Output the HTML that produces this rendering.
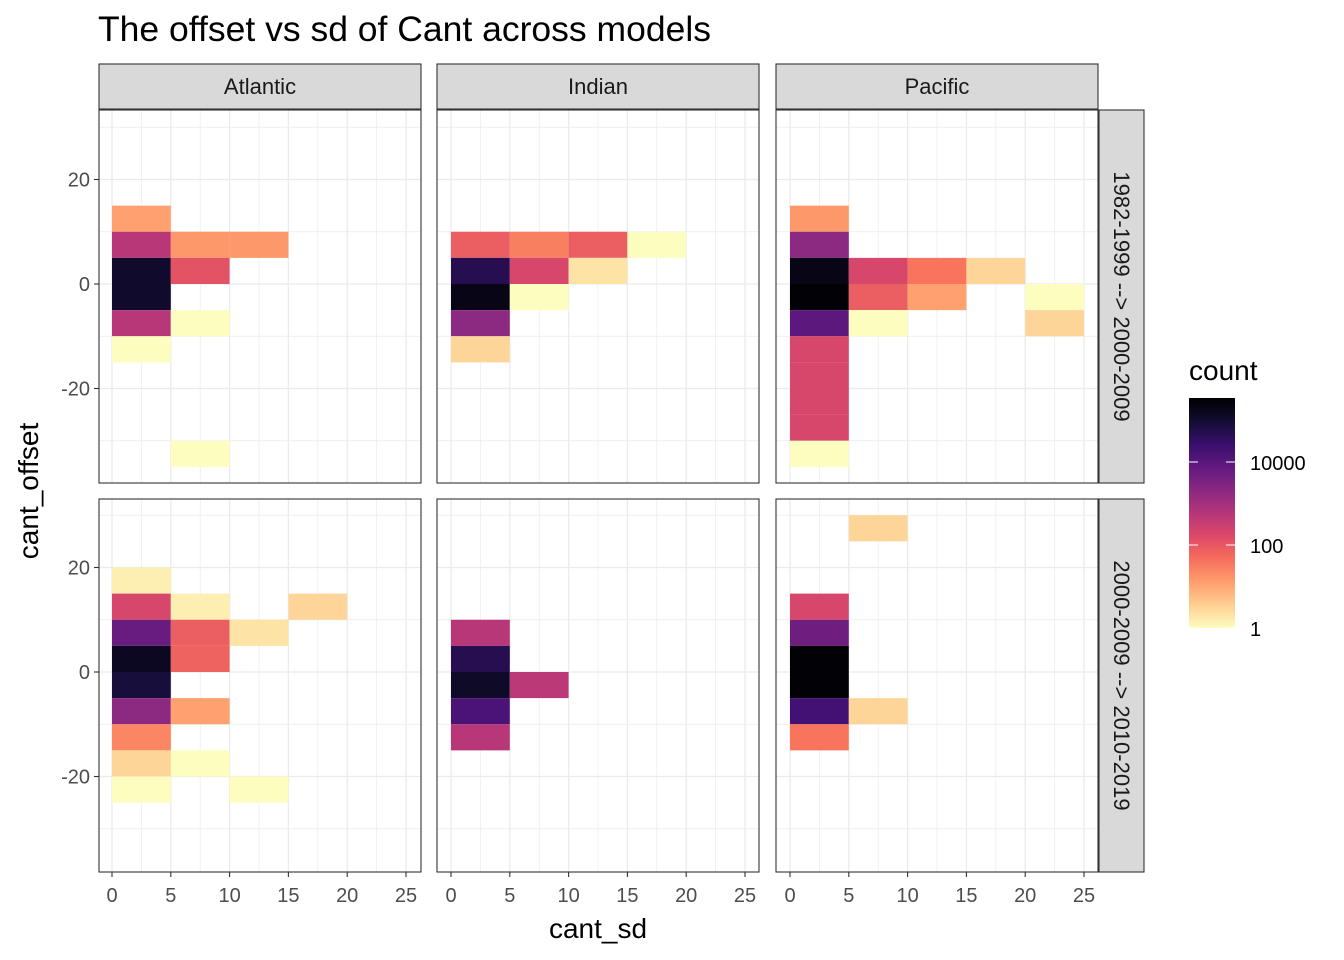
<!DOCTYPE html>
<html><head><meta charset="utf-8">
<style>body{margin:0;background:#fff}svg{display:block;font-family:"Liberation Sans",sans-serif}</style>
</head><body>
<svg id="c" width="1344" height="960"></svg>
<script>
const panelNames=["Atlantic","Indian","Pacific"];
const rowNames=["1982-1999 --> 2000-2009","2000-2009 --> 2010-2019"];
// tiles per panel: Atlantic-top 11, Indian-top 11, Pacific-top 18, Atlantic-bottom 17, Indian-bottom 6, Pacific-bottom 8
const tileRow=[0,0,0,0,0,0,0,0,0,0,0,
 0,0,0,0,0,0,0,0,0,0,0,
 0,0,0,0,0,0,0,0,0,0,0,0,0,0,0,0,0,0,
 1,1,1,1,1,1,1,1,1,1,1,1,1,1,1,1,1,
 1,1,1,1,1,1,
 1,1,1,1,1,1,1,1];
const tileCol=[0,0,0,0,0,0,0,0,0,0,0,
 1,1,1,1,1,1,1,1,1,1,1,
 2,2,2,2,2,2,2,2,2,2,2,2,2,2,2,2,2,2,
 0,0,0,0,0,0,0,0,0,0,0,0,0,0,0,0,0,
 1,1,1,1,1,1,
 2,2,2,2,2,2,2,2];
const tileX=[0,0,5,10,0,5,0,0,5,0,5,
 0,5,10,15,0,5,10,0,5,0,0,
 0,0,0,5,10,15,0,5,10,20,0,5,20,0,0,0,0,0,
 0,0,5,15,0,5,10,0,5,0,0,5,0,0,5,0,10,
 0,0,0,5,0,0,
 5,0,0,0,0,0,5,0];
const tileY=[10,5,5,5,0,0,-5,-10,-10,-15,-35,
 5,5,5,5,0,0,0,-5,-5,-10,-15,
 10,5,0,0,0,0,-5,-5,-5,-5,-10,-10,-10,-15,-20,-25,-30,-35,
 15,10,10,10,5,5,5,0,0,-5,-10,-10,-15,-20,-20,-25,-25,
 5,0,-5,-5,-10,-15,
 25,10,5,0,-5,-10,-10,-15];
const tileCount=[12,560,15,15,115000,120,115000,560,1,1,1,
 80,30,80,1,50000,200,2,200000,1,2000,3,
 15,2000,200000,200,40,3,300000,80,12,1,9000,1,3,200,200,200,200,1,
 1.5,200,1.5,3,6000,80,2,150000,70,80000,2000,12,25,3,1,1,1,
 560,50000,130000,500,15000,560,
 3,200,5000,300000,300000,20000,3,40];
const xTicks=[0,5,10,15,20,25];
const yTicks=[-20,0,20];
const legendTicks=[1,100,10000];

const S=document.getElementById('c'),NS="http://www.w3.org/2000/svg";
function el(t,a,p){const e=document.createElementNS(NS,t);for(const k in a)e.setAttribute(k,a[k]);(p||S).appendChild(e);return e;}
const stops=["#000004","#140e36","#3b0f70","#641a80","#8c2981","#b73779","#de4968","#f7705c","#fe9f6d","#fecf92","#fcfdbf"];
function hx(c){return [1,3,5].map(i=>parseInt(c.substr(i,2),16));}
function magma(t){t=Math.max(0,Math.min(1,t));const f=t*10,i=Math.min(9,Math.floor(f)),r=f-i;const a=hx(stops[i]),b=hx(stops[i+1]);return "rgb("+a.map((v,k)=>Math.round(v+(b[k]-v)*r)).join(",")+")";}
const LMAX=5.5;
function col(c){return magma(1-Math.log10(c)/LMAX);}
const PX=[99,437,776],PW=322,PY=[110,499],PH=373;
const X0=[112,451,790],XS=11.76,Y0=[284,672],YS=5.225;
function sx(c,v){return X0[c]+v*XS;}
function sy(r,v){return Y0[r]-v*YS;}

for(let r=0;r<2;r++)for(let c=0;c<3;c++){
  const g=el('g',{});
  
  
  el('rect',{x:PX[c],y:PY[r],width:PW,height:PH,fill:'#fff'},g);
  for(let v=-2.5;v<=27.5;v+=2.5){const x=sx(c,v);if(x<PX[c]||x>PX[c]+PW)continue;
    el('line',{x1:x,x2:x,y1:PY[r],y2:PY[r]+PH,stroke:'#ebebeb','stroke-width':(v%5===0)?1.3:0.7},g);}
  for(let v=-40;v<=40;v+=10){const y=sy(r,v);if(y<PY[r]||y>PY[r]+PH)continue;
    el('line',{x1:PX[c],x2:PX[c]+PW,y1:y,y2:y,stroke:'#ebebeb','stroke-width':(v%20===0)?1.3:0.7},g);}
}
for(let i=0;i<tileCount.length;i++){
  const r=tileRow[i],c=tileCol[i];
  const t=el('rect',{x:sx(c,tileX[i]),y:sy(r,tileY[i]+5),width:5*XS,height:5*YS,fill:col(tileCount[i])});
  
  
}
for(let r=0;r<2;r++)for(let c=0;c<3;c++){
  el('rect',{x:PX[c],y:PY[r],width:PW,height:PH,fill:'none',stroke:'#333','stroke-width':1.1});
}
for(let c=0;c<3;c++){
  const g=el('g',{});
  
  
  el('rect',{x:PX[c],y:64,width:PW,height:45,fill:'#d9d9d9',stroke:'#333','stroke-width':1.1},g);
  const t=el('text',{x:PX[c]+PW/2,y:94,'text-anchor':'middle','font-size':22,fill:'#1a1a1a'},g);t.textContent=panelNames[c];
}
for(let r=0;r<2;r++){
  const g=el('g',{});
  
  
  el('rect',{x:1099,y:PY[r],width:45,height:PH,fill:'#d9d9d9',stroke:'#333','stroke-width':1.1},g);
  const cy=PY[r]+PH/2;
  const t=el('text',{x:1114,y:cy,'text-anchor':'middle','font-size':22,fill:'#1a1a1a',transform:'rotate(90 1114 '+cy+')'},g);t.textContent=rowNames[r];
}
for(let c=0;c<3;c++)xTicks.forEach(v=>{const x=sx(c,v);
  el('line',{x1:x,x2:x,y1:872,y2:877,stroke:'#333','stroke-width':1.1});
  const t=el('text',{x:x,y:902,'text-anchor':'middle','font-size':20,fill:'#4d4d4d'});t.textContent=v;
  });
for(let r=0;r<2;r++)yTicks.forEach(v=>{const y=sy(r,v);
  el('line',{x1:94,x2:99,y1:y,y2:y,stroke:'#333','stroke-width':1.1});
  const t=el('text',{x:90,y:y+7,'text-anchor':'end','font-size':20,fill:'#4d4d4d'});t.textContent=v;
  });
let t=el('text',{x:598,y:938,'text-anchor':'middle','font-size':28,fill:'#000',});t.textContent='cant_sd';
t=el('text',{x:38,y:491,'text-anchor':'middle','font-size':28,fill:'#000',transform:'rotate(-90 38 491)',});t.textContent='cant_offset';
t=el('text',{x:98,y:41,'font-size':35.5,fill:'#000',});t.textContent='The offset vs sd of Cant across models';
const lg=el('g',{});
t=el('text',{x:1189,y:380,'font-size':28,fill:'#000'},lg);t.textContent='count';
const LT=398,LB=628,LPU=41.5,LTOP=(LB-LT)/LPU;
const defs=el('defs',{},lg);const gr=el('linearGradient',{id:'lgd',x1:0,y1:1,x2:0,y2:0},defs);
for(let i=0;i<=20;i++)el('stop',{offset:i/20,'stop-color':magma(1-(i/20*LTOP)/LMAX)},gr);
el('rect',{x:1189,y:LT,width:46,height:LB-LT,fill:'url(#lgd)'},lg);
legendTicks.forEach(v=>{const y=LB-Math.log10(v)*LPU;
  el('line',{x1:1189,x2:1198,y1:y,y2:y,stroke:'#fff','stroke-width':1});
  el('line',{x1:1226,x2:1235,y1:y,y2:y,stroke:'#fff','stroke-width':1});
  const tt=el('text',{x:1250,y:y+8,'font-size':20,fill:'#000'},lg);tt.textContent=v;});
</script>
</body></html>
